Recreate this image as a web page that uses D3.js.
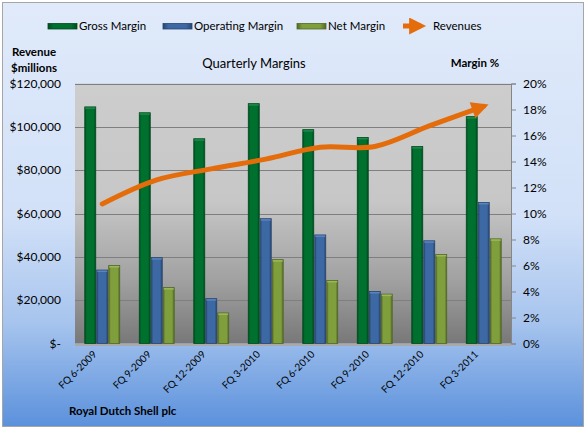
<!DOCTYPE html>
<html>
<head>
<meta charset="utf-8">
<script src="https://cdn.jsdelivr.net/npm/d3@7"></script>
<style>
  html, body { margin: 0; padding: 0; background: #fff; }
  svg text { font-family: Lato, "Open Sans", sans-serif; fill: #000; }
</style>
</head>
<body>
<svg id="chart" width="587" height="430"></svg>
<script>
/* Quarterly margins, Royal Dutch Shell */

const quarters = ['FQ 6-2009', 'FQ 9-2009', 'FQ 12-2009', 'FQ 3-2010',
  'FQ 6-2010', 'FQ 9-2010', 'FQ 12-2010', 'FQ 3-2011'];
const grossMargin = [18.2, 17.75, 15.75, 18.45, 16.45, 15.85, 15.15, 17.45];
const operatingMargin = [5.65, 6.6, 3.45, 9.6, 8.35, 4.0, 7.9, 10.85];
const netMargin = [6.0, 4.3, 2.35, 6.45, 4.85, 3.8, 6.85, 8.05];
const revenues = [64400, 75500, 80600, 85100, 90600, 90900, 100400, 109500];

const revenueTicks = [0, 20000, 40000, 60000, 80000, 100000, 120000];
const marginTicks = [0, 2, 4, 6, 8, 10, 12, 14, 16, 18, 20];

const series = [
  { name: 'Gross Margin', values: grossMargin, fill: '#00702f', edge: '#004a1f', light: '#1e8a4a' },
  { name: 'Operating Margin', values: operatingMargin, fill: '#3c68a3', edge: '#27456f', light: '#5a84bd' },
  { name: 'Net Margin', values: netMargin, fill: '#7f9e3c', edge: '#536827', light: '#9ab85a' }
];
const orange = '#e46c0a';

const plot = { left: 75, right: 511, top: 83.5, bottom: 343.5 };

const svg = d3.select('#chart');
const defs = svg.append('defs');

// gradients
const bg = defs.append('linearGradient').attr('id', 'bg').attr('x1', 0).attr('y1', 0).attr('x2', 0).attr('y2', 1);
[[0, '#e0eafa'], [0.5, '#d2e1f8'], [0.75, '#a8c5ee'], [1, '#5b91dc']].forEach(s =>
  bg.append('stop').attr('offset', s[0]).attr('stop-color', s[1]));

const pg = defs.append('linearGradient').attr('id', 'pg').attr('x1', 0).attr('y1', 0).attr('x2', 0).attr('y2', 1);
[[0, '#cdcdcd'], [0.45, '#c7c7c7'], [0.75, '#a2a2a2'], [1, '#787878']].forEach(s =>
  pg.append('stop').attr('offset', s[0]).attr('stop-color', s[1]));

series.forEach((s, i) => {
  const g = defs.append('linearGradient').attr('id', 'bar' + i).attr('x1', 0).attr('y1', 0).attr('x2', 1).attr('y2', 0);
  [[0, s.edge], [0.18, s.fill], [0.8, s.fill], [1, s.edge]].forEach(st =>
    g.append('stop').attr('offset', st[0]).attr('stop-color', st[1]));
});

defs.append('marker').attr('id', 'arrow')
  .attr('viewBox', '0 0 10 10').attr('refX', 7).attr('refY', 5)
  .attr('markerWidth', 3.8).attr('markerHeight', 3.4).attr('orient', 'auto')
  .attr('markerUnits', 'strokeWidth')
  .append('path').attr('d', 'M0,0 L10,5 L0,10 Z').attr('fill', orange);

// chart background
svg.append('rect').attr('x', 2.5).attr('y', 2.5).attr('width', 581).attr('height', 424)
  .attr('fill', 'url(#bg)').attr('stroke', '#a6a6a6').attr('stroke-width', 1);

// scales
const x0 = d3.scaleBand().domain(quarters).range([plot.left, plot.right])
  .paddingInner(0.34).paddingOuter(0.17);
const x1 = d3.scaleBand().domain(series.map(s => s.name)).range([0, x0.bandwidth()]);
const yRev = d3.scaleLinear().domain([0, 120000]).range([plot.bottom, plot.top]);
const yPct = d3.scaleLinear().domain([0, 20]).range([plot.bottom, plot.top]);

// plot area
svg.append('rect').attr('x', plot.left).attr('y', plot.top)
  .attr('width', plot.right - plot.left).attr('height', plot.bottom - plot.top)
  .attr('fill', 'url(#pg)');

svg.append('g').selectAll('line').data(revenueTicks.slice(1)).join('line')
  .attr('x1', plot.left).attr('x2', plot.right)
  .attr('y1', d => Math.round(yRev(d)) + 0.5).attr('y2', d => Math.round(yRev(d)) + 0.5)
  .attr('stroke', '#7f7f7f').attr('stroke-width', 1);

// floor strip
svg.append('rect').attr('x', plot.left).attr('y', plot.bottom)
  .attr('width', plot.right - plot.left).attr('height', 2.5).attr('fill', '#a9a9a9');

// left axis labels
const fmtRev = d => d === 0 ? '$-' : '$' + d3.format(',')(d);
svg.append('g').selectAll('text').data(revenueTicks).join('text')
  .attr('x', 61).attr('y', d => yRev(d)).attr('dy', '0.35em')
  .attr('text-anchor', 'end').attr('font-size', 12)
  .text(fmtRev);

// right axis
const rightAxis = svg.append('g').attr('transform', `translate(${plot.right},0)`)
  .call(d3.axisRight(yPct).tickValues(marginTicks).tickSize(5).tickPadding(7).tickFormat(d => d + '%'));
rightAxis.select('.domain').attr('stroke', '#868686');
rightAxis.selectAll('.tick line').attr('stroke', '#868686');
rightAxis.selectAll('.tick text').attr('font-size', 12).attr('font-family', 'Lato, sans-serif').attr('fill', '#000');

// bars
const groups = svg.append('g').selectAll('g').data(quarters).join('g')
  .attr('transform', d => `translate(${x0(d)},0)`);

series.forEach((s, si) => {
  groups.append('rect')
    .attr('x', x1(s.name) + 0.5)
    .attr('y', (d, i) => yPct(s.values[i]))
    .attr('width', x1.bandwidth() - 1)
    .attr('height', (d, i) => plot.bottom - yPct(s.values[i]))
    .attr('fill', `url(#bar${si})`)
    .attr('stroke', s.edge).attr('stroke-width', 0.8);
  groups.append('rect')
    .attr('x', x1(s.name) + 1)
    .attr('y', (d, i) => yPct(s.values[i]) + 0.5)
    .attr('width', x1.bandwidth() - 2)
    .attr('height', 1.5)
    .attr('fill', s.light);
});

// revenue line
const line = d3.line()
  .x((d, i) => x0(quarters[i]) + x0.bandwidth() / 2)
  .y(d => yRev(d))
  .curve(d3.curveCatmullRom.alpha(0.5));

svg.append('path').datum(revenues)
  .attr('d', line)
  .attr('fill', 'none').attr('stroke', orange).attr('stroke-width', 5)
  .attr('stroke-linecap', 'round')
  .attr('marker-end', 'url(#arrow)');

// x labels
svg.append('g').selectAll('text').data(quarters).join('text')
  .attr('transform', d => `translate(${x0(d) + x0.bandwidth() / 2 - 5},355) rotate(-45)`)
  .attr('text-anchor', 'end').attr('font-size', 10)
  .attr('fill', '#1a1a1a')
  .text(d => d);

// legend
const legend = svg.append('g').attr('font-size', 11.5);
const legendX = [48, 163, 297];
series.forEach((s, i) => {
  legend.append('rect').attr('x', legendX[i]).attr('y', 23.5).attr('width', 29).attr('height', 5.5)
    .attr('fill', `url(#bar${i})`).attr('stroke', s.edge).attr('stroke-width', 0.8);
  legend.append('text').attr('x', legendX[i] + 31).attr('y', 26).attr('dy', '0.35em').text(s.name);
});
legend.append('line').attr('x1', 403).attr('x2', 421).attr('y1', 26).attr('y2', 26)
  .attr('stroke', orange).attr('stroke-width', 5).attr('marker-end', 'url(#arrow)');
legend.append('text').attr('x', 433).attr('y', 26).attr('dy', '0.35em').text('Revenues');

// titles
svg.append('text').attr('x', 254).attr('y', 63).attr('dy', '0.35em')
  .attr('text-anchor', 'middle').attr('font-size', 13).text('Quarterly Margins');
svg.append('text').attr('x', 34).attr('y', 52).attr('dy', '0.35em')
  .attr('text-anchor', 'middle').attr('font-size', 11.5).attr('font-weight', 'bold').text('Revenue');
svg.append('text').attr('x', 34).attr('y', 68).attr('dy', '0.35em')
  .attr('text-anchor', 'middle').attr('font-size', 11.5).attr('font-weight', 'bold').text('$millions');
svg.append('text').attr('x', 475).attr('y', 63).attr('dy', '0.35em')
  .attr('text-anchor', 'middle').attr('font-size', 11.5).attr('font-weight', 'bold').text('Margin %');
svg.append('text').attr('x', 69).attr('y', 411).attr('dy', '0.35em')
  .attr('font-size', 11.5).attr('font-weight', 'bold').text('Royal Dutch Shell plc');
</script>
</body>
</html>
